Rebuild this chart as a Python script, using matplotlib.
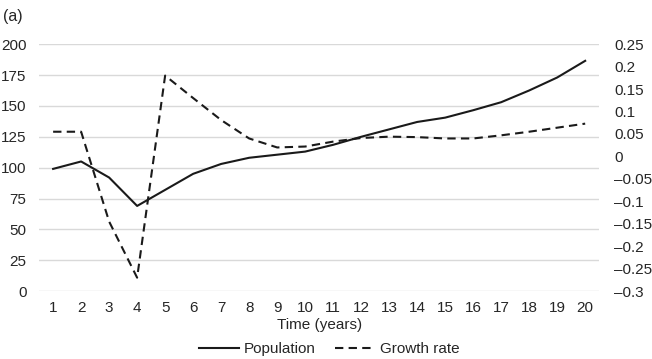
import matplotlib
matplotlib.use('Agg')
import matplotlib.pyplot as plt
from matplotlib.ticker import FuncFormatter

# data
years = list(range(1, 21))
population = [99, 105, 92, 69, 82, 95, 103, 108, 110.5, 113, 118.5, 125, 131, 137,
              140.5, 146.5, 153, 162.5, 173, 186.5]
growth_rate = [0.055, 0.055, -0.145, -0.27, 0.18, 0.13, 0.081, 0.04, 0.02, 0.022,
               0.033, 0.041, 0.044, 0.043, 0.04, 0.04, 0.047, 0.055, 0.064, 0.073]
left_ticks = [0, 25, 50, 75, 100, 125, 150, 175, 200]
right_ticks = [-0.3, -0.25, -0.2, -0.15, -0.1, -0.05, 0, 0.05, 0.1, 0.15, 0.2, 0.25]

plt.rcParams['font.family'] = ['Liberation Sans', 'DejaVu Sans']
plt.rcParams['font.size'] = 11
plt.rcParams['lines.scale_dashes'] = False


def main():
    fig = plt.figure(figsize=(6.52, 3.59), dpi=100)
    ax = fig.add_axes([0.06, 0.189, 0.859, 0.688])
    ax2 = ax.twinx()

    l1, = ax.plot(years, population, color='#1a1a1a', lw=1.5, label='Population')
    l2, = ax2.plot(years, growth_rate, color='#1a1a1a', lw=1.5, dashes=(6, 3.8),
                   label='Growth rate')

    ax.set_xlim(0.5, 20.5)
    ax.set_ylim(0, 200)
    ax.set_yticks(left_ticks)
    ax.set_xticks(years)
    ax2.set_ylim(-0.3, 0.25)
    ax2.set_yticks(right_ticks)

    def fmt(v, pos):
        s = ('%.2f' % v).rstrip('0').rstrip('.')
        if s in ('-0', '0'):
            return '0'
        return s.replace('-', '\u2013')
    ax2.yaxis.set_major_formatter(FuncFormatter(fmt))

    ax.grid(axis='y', color='#d9d9d9', lw=1)
    ax.set_axisbelow(True)
    for a in (ax, ax2):
        for sp in a.spines.values():
            sp.set_visible(False)
        a.tick_params(length=0, colors='#262626', labelsize=11)
    ax.tick_params(axis='y', pad=9)
    ax.tick_params(axis='x', pad=7)
    ax2.tick_params(axis='y', pad=11)

    ax.set_xlabel('Time (years)', color='#262626', labelpad=2)
    fig.text(0.005, 0.975, '(a)', fontsize=11.5, color='#262626', va='top')

    fig.legend(handles=[l1, l2], loc='center', bbox_to_anchor=(0.505, 0.028),
               ncol=2, frameon=False, handlelength=2.6, handletextpad=0.3,
               columnspacing=1.3, fontsize=11, labelcolor='#262626')

    plt.savefig('out.png', dpi=100)


if __name__ == "__main__":
    main()
